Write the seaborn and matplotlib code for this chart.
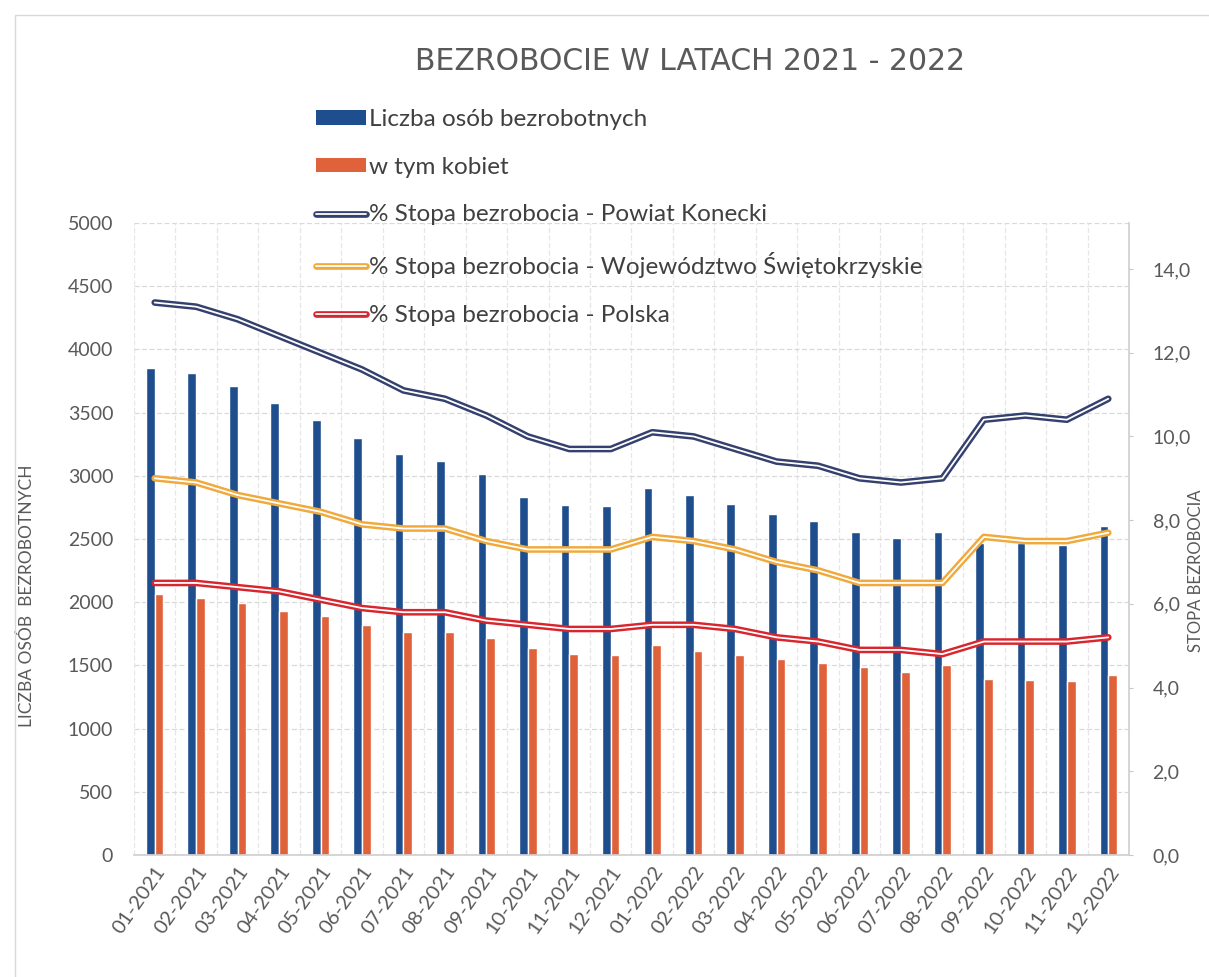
import numpy as np
import pandas as pd
import matplotlib
matplotlib.use("Agg")
import matplotlib.pyplot as plt
import matplotlib.patheffects as pe
from matplotlib.patches import Patch, Rectangle
from matplotlib.lines import Line2D
from matplotlib.ticker import FixedLocator, FuncFormatter
import seaborn as sns

months = ["01-2021", "02-2021", "03-2021", "04-2021", "05-2021", "06-2021",
          "07-2021", "08-2021", "09-2021", "10-2021", "11-2021", "12-2021",
          "01-2022", "02-2022", "03-2022", "04-2022", "05-2022", "06-2022",
          "07-2022", "08-2022", "09-2022", "10-2022", "11-2022", "12-2022"]

bezrobotni = [3855, 3810, 3712, 3578, 3444, 3302, 3176, 3115, 3017, 2830, 2772, 2760,
              2900, 2845, 2780, 2695, 2640, 2552, 2505, 2552, 2465, 2472, 2456, 2600]
kobiety = [2062, 2030, 1990, 1930, 1888, 1817, 1762, 1762, 1714, 1635, 1588, 1580,
           1659, 1612, 1580, 1548, 1517, 1485, 1445, 1500, 1390, 1385, 1375, 1422]

stopa_konecki = [13.2, 13.1, 12.8, 12.4, 12.0, 11.6, 11.1, 10.9, 10.5, 10.0, 9.7, 9.7,
                 10.1, 10.0, 9.7, 9.4, 9.3, 9.0, 8.9, 9.0, 10.4, 10.5, 10.4, 10.9]
stopa_swietokrzyskie = [9.0, 8.9, 8.6, 8.4, 8.2, 7.9, 7.8, 7.8, 7.5, 7.3, 7.3, 7.3,
                        7.6, 7.5, 7.3, 7.0, 6.8, 6.5, 6.5, 6.5, 7.6, 7.5, 7.5, 7.7]
stopa_polska = [6.5, 6.5, 6.4, 6.3, 6.1, 5.9, 5.8, 5.8, 5.6, 5.5, 5.4, 5.4,
                5.5, 5.5, 5.4, 5.2, 5.1, 4.9, 4.9, 4.8, 5.1, 5.1, 5.1, 5.2]

bar_names = ["Liczba osób bezrobotnych", "w tym kobiet"]
line_names = ["% Stopa bezrobocia - Powiat Konecki",
              "% Stopa bezrobocia - Województwo Świętokrzyskie",
              "% Stopa bezrobocia - Polska"]

left_ticks = [0, 500, 1000, 1500, 2000, 2500, 3000, 3500, 4000, 4500, 5000]
right_ticks = [0, 2, 4, 6, 8, 10, 12, 14]

title = "BEZROBOCIE W LATACH 2021 - 2022"
ylabel_left = "LICZBA OSÓB  BEZROBOTNYCH"
ylabel_right = "STOPA BEZROBOCIA"

c_blue = "#1F4E8E"
c_orange_bar = "#E0623A"
line_colors = ["#34406E", "#F0A93A", "#D8262F"]
txt = "#595959"

sns.set_theme(style="white")
plt.rcParams["font.family"] = ["Lato", "DejaVu Sans"]

W, H = 1209, 977
ax_l, ax_r, ax_b, ax_t = 134, 1129, 855, 223
fig = plt.figure(figsize=(W / 100, H / 100), dpi=100)
fig.patch.set_facecolor("white")
ax = fig.add_axes([ax_l / W, 1 - ax_b / H, (ax_r - ax_l) / W, (ax_b - ax_t) / H])

df_bars = pd.DataFrame({
    "month": months * 2,
    "value": bezrobotni + kobiety,
    "series": [bar_names[0]] * len(months) + [bar_names[1]] * len(months),
})
sns.barplot(data=df_bars, x="month", y="value", hue="series", order=months,
            hue_order=bar_names, palette=[c_blue, c_orange_bar], width=0.42,
            saturation=1, legend=False, ax=ax, zorder=2)

ax.set_xlim(-0.5, len(months) - 0.5)
ax.set_ylim(0, 5000)
ax.set_yticks(left_ticks)
ax.set_xlabel("")
ax.set_ylabel(ylabel_left, fontsize=12.5, color=txt)
ax.yaxis.set_label_coords((35 - ax_l) / (ax_r - ax_l), 0.41)
ax.tick_params(axis="y", length=0, labelsize=14, colors=txt, pad=15)
ax.tick_params(axis="x", length=0, labelsize=14.5, colors=txt, pad=6)
for lab in ax.get_xticklabels():
    lab.set_rotation(55)
    lab.set_ha("right")
    lab.set_rotation_mode("anchor")
ax.xaxis.set_minor_locator(FixedLocator(np.arange(-0.5, len(months), 1)))
ax.set_axisbelow(True)
ax.grid(axis="y", which="major", color="#D9D9D9", linestyle=(0, (4, 2)), linewidth=0.9)
ax.grid(axis="x", which="minor", color="#E6E6E6", linestyle=(0, (4, 2)), linewidth=0.9)
for s in ["top", "right", "left"]:
    ax.spines[s].set_visible(False)
ax.spines["bottom"].set_color("#D0D0D0")

ax2 = ax.twinx()
series_vals = [stopa_konecki, stopa_swietokrzyskie, stopa_polska]
for vals, col in zip(series_vals, line_colors):
    sns.lineplot(x=months, y=vals, sort=False, color="white", linewidth=1.3, ax=ax2,
                 path_effects=[pe.Stroke(linewidth=4.8, foreground=col), pe.Normal()])
ax2.set_ylim(0, 15.1)
ax2.set_yticks(right_ticks)
ax2.yaxis.set_major_formatter(FuncFormatter(lambda v, p: f"{v:.1f}".replace(".", ",")))
ax2.tick_params(axis="y", direction="out", length=3, width=0.8, color="#C8C8C8",
                labelsize=14, labelcolor=txt, pad=14)
ax2.set_ylabel(ylabel_right, fontsize=12, color=txt)
ax2.yaxis.set_label_coords((1188 - ax_l) / (ax_r - ax_l), 0.45)
for s in ["top", "left", "bottom"]:
    ax2.spines[s].set_visible(False)
ax2.spines["right"].set_color("#D0D0D0")

handles = [Patch(facecolor=c_blue, edgecolor="none"),
           Patch(facecolor=c_orange_bar, edgecolor="none")]
for col in line_colors:
    handles.append(Line2D([0], [0], color="white", linewidth=1.3,
                          path_effects=[pe.Stroke(linewidth=4.8, foreground=col), pe.Normal()]))
leg = fig.legend(handles, bar_names + line_names, loc="upper left",
                 bbox_to_anchor=(316 / W, 1 - 109 / H), frameon=False,
                 fontsize=17.5, labelspacing=1.1, handlelength=2.05, handleheight=0.55,
                 handletextpad=0.12, borderpad=0, borderaxespad=0)
for t in leg.get_texts():
    t.set_color("#404040")

fig.text(690 / W, 1 - 62 / H, title, ha="center", va="center",
         fontsize=21.5, family="DejaVu Sans", color="#595959")

fig.patches.append(Rectangle((15 / W, -0.05), 1.2, 1 - 15 / H + 0.05,
                             transform=fig.transFigure, fill=False,
                             edgecolor="#D9D9D9", linewidth=1))

fig.savefig("out.png", dpi=100, facecolor="white")
